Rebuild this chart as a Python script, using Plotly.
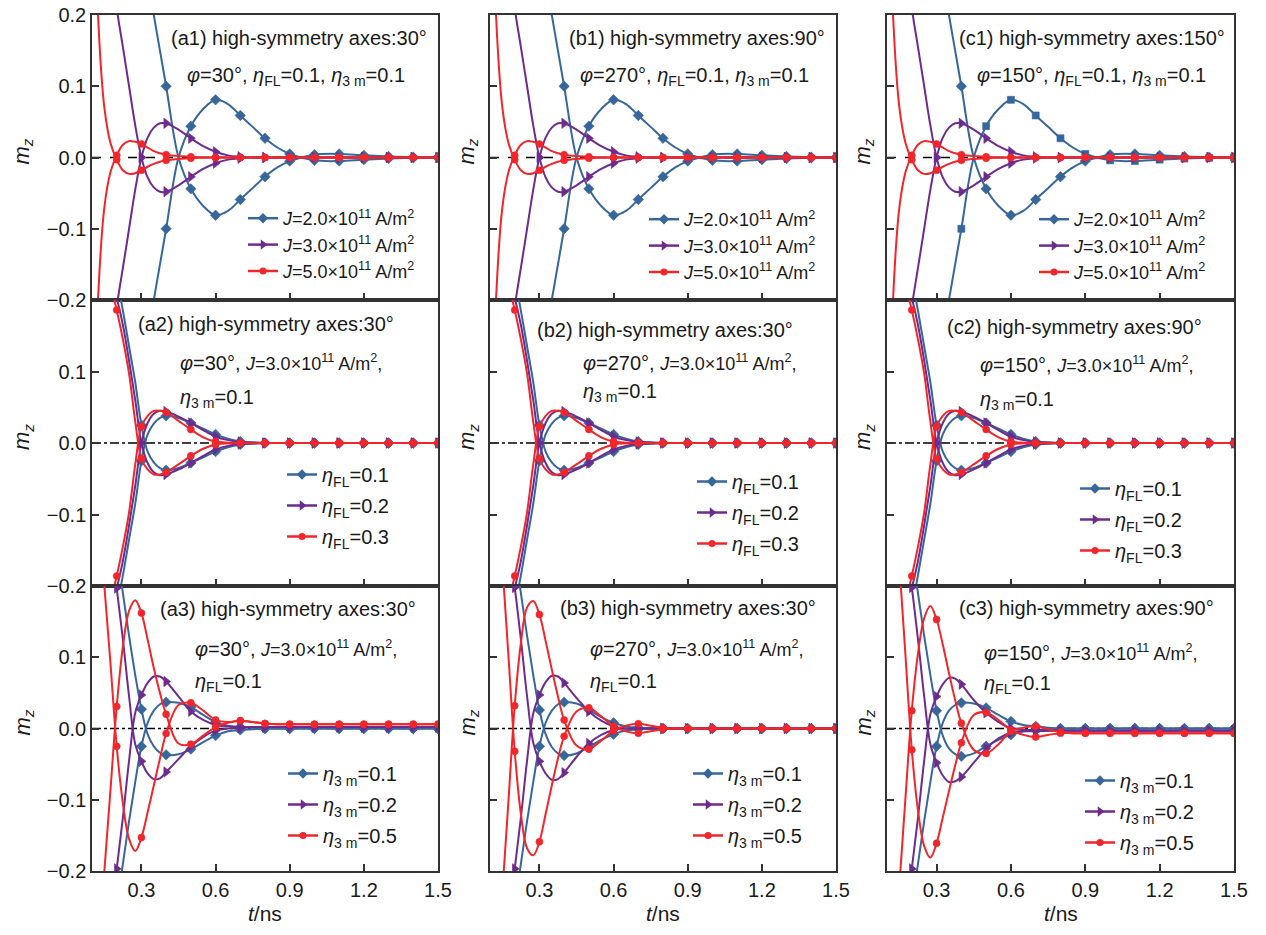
import plotly.graph_objects as go

# The page has an 8px body margin, so the figure is sized to fit the 1266x935 window.
SCREEN_W, SCREEN_H = 1266, 935
OFF = 8
W, H = SCREEN_W - 2 * OFF, SCREEN_H - 2 * OFF
FONT = "Liberation Sans, Arial, sans-serif"

def px(x):
    return (x - OFF) / W

def py(y):
    return 1 - (y - OFF) / H

# ---------------- data (t in ns, m_z) ----------------
T = [0.10, 0.125, 0.15, 0.175, 0.20, 0.225, 0.25, 0.275, 0.30, 0.325, 0.35, 0.375,
     0.40, 0.45, 0.50, 0.55, 0.60, 0.65, 0.70, 0.75, 0.80, 0.85, 0.90,
     1.00, 1.10, 1.20, 1.30, 1.40, 1.50]
MARK_T = [0.2, 0.3, 0.4, 0.5, 0.6, 0.7, 0.8, 0.9, 1.0, 1.1, 1.2, 1.3, 1.4, 1.5]

# Row 1 (a1, b1, c1 look identical): J = 2.0, 3.0, 5.0 x10^11 A/m^2
J2_TOP = [1.20, 1.05, 0.90, 0.77, 0.65, 0.55, 0.46, 0.38, 0.31, 0.25, 0.20, 0.15,
          0.10, 0.00, -0.044, -0.068, -0.081, -0.075, -0.059, -0.043, -0.027, -0.014, -0.005,
          0.004, 0.005, 0.003, 0.0015, 0.0005, 0.0]
J2_BOT = [-1.20, -1.05, -0.90, -0.77, -0.65, -0.55, -0.46, -0.38, -0.31, -0.25, -0.20, -0.15,
          -0.10, 0.00, 0.044, 0.068, 0.081, 0.075, 0.059, 0.043, 0.027, 0.014, 0.005,
          -0.004, -0.005, -0.003, -0.0015, -0.0005, 0.0]
J3_TOP = [0.75, 0.55, 0.40, 0.29, 0.21, 0.155, 0.10, 0.045, 0.0, -0.028, -0.042, -0.048,
          -0.048, -0.039, -0.027, -0.016, -0.008, -0.003, -0.001, 0.0, 0.0, 0.0, 0.0,
          0.0, 0.0, 0.0, 0.0, 0.0, 0.0]
J3_BOT = [-0.75, -0.55, -0.40, -0.29, -0.21, -0.155, -0.10, -0.045, 0.0, 0.028, 0.042, 0.048,
          0.048, 0.039, 0.027, 0.016, 0.008, 0.003, 0.001, 0.0, 0.0, 0.0, 0.0,
          0.0, 0.0, 0.0, 0.0, 0.0, 0.0]
J5_TOP = [0.50, 0.195, 0.07, 0.02, -0.003, -0.018, -0.023, -0.022, -0.018, -0.013, -0.009, -0.006,
          -0.004, -0.002, -0.001, 0.0, 0.0, 0.0, 0.0, 0.0, 0.0, 0.0, 0.0,
          0.0, 0.0, 0.0, 0.0, 0.0, 0.0]
J5_BOT = [-0.50, -0.195, -0.07, -0.02, 0.003, 0.018, 0.023, 0.022, 0.019, 0.014, 0.009, 0.006,
          0.004, 0.002, 0.001, 0.0, 0.0, 0.0, 0.0, 0.0, 0.0, 0.0, 0.0,
          0.0, 0.0, 0.0, 0.0, 0.0, 0.0]

# Row 2 (a2, b2, c2 look identical): eta_FL = 0.1, 0.2, 0.3
FL1_TOP = [0.32, 0.31, 0.29, 0.265, 0.23, 0.185, 0.135, 0.085, 0.025, -0.012, -0.027, -0.035,
           -0.038, -0.035, -0.028, -0.020, -0.012, -0.006, -0.002, -0.001, 0.0, 0.0, 0.0,
           0.0, 0.0, 0.0, 0.0, 0.0, 0.0]
FL1_BOT = [-0.32, -0.31, -0.29, -0.265, -0.23, -0.185, -0.135, -0.085, -0.025, 0.012, 0.027, 0.035,
           0.038, 0.035, 0.028, 0.020, 0.012, 0.006, 0.002, 0.001, 0.0, 0.0, 0.0,
           0.0, 0.0, 0.0, 0.0, 0.0, 0.0]
FL2_TOP = [0.30, 0.285, 0.265, 0.235, 0.203, 0.165, 0.115, 0.06, 0.0, -0.028, -0.041, -0.045,
           -0.044, -0.037, -0.028, -0.018, -0.009, -0.004, -0.0015, -0.0005, 0.0, 0.0, 0.0,
           0.0, 0.0, 0.0, 0.0, 0.0, 0.0]
FL2_BOT = [-0.30, -0.285, -0.265, -0.235, -0.203, -0.165, -0.115, -0.06, 0.0, 0.028, 0.041, 0.045,
           0.044, 0.037, 0.028, 0.018, 0.009, 0.004, 0.0015, 0.0005, 0.0, 0.0, 0.0,
           0.0, 0.0, 0.0, 0.0, 0.0, 0.0]
FL3_TOP = [0.29, 0.275, 0.255, 0.222, 0.186, 0.145, 0.097, 0.03, -0.022, -0.037, -0.044, -0.044,
           -0.041, -0.030, -0.018, -0.008, -0.002, -0.0005, 0.0, 0.0, 0.0, 0.0, 0.0,
           0.0, 0.0, 0.0, 0.0, 0.0, 0.0]
FL3_BOT = [-0.29, -0.275, -0.255, -0.222, -0.186, -0.145, -0.097, -0.03, 0.023, 0.038, 0.045, 0.045,
           0.043, 0.031, 0.019, 0.008, 0.002, 0.0005, 0.0, 0.0, 0.0, 0.0, 0.0,
           0.0, 0.0, 0.0, 0.0, 0.0, 0.0]

# Row 3, panel a3: eta_3m = 0.1, 0.2, 0.5
A3_E1_TOP = [0.50, 0.42, 0.36, 0.31, 0.25, 0.19, 0.13, 0.075, 0.027, -0.008, -0.025, -0.034,
             -0.037, -0.036, -0.029, -0.019, -0.010, -0.004, -0.002, -0.001, 0.0, 0.0, 0.0,
             0.0, 0.0, 0.0, 0.0, 0.0, 0.0]
A3_E1_BOT = [-0.50, -0.42, -0.36, -0.31, -0.25, -0.19, -0.13, -0.075, -0.025, 0.008, 0.025, 0.034,
             0.037, 0.036, 0.030, 0.019, 0.009, 0.004, 0.002, 0.001, 0.0, 0.0, 0.0,
             0.0, 0.0, 0.0, 0.0, 0.0, 0.0]
A3_E2_TOP = [0.50, 0.40, 0.33, 0.26, 0.197, 0.125, 0.045, -0.022, -0.046, -0.063, -0.071, -0.070,
             -0.061, -0.043, -0.025, -0.012, -0.003, 0.0, 0.001, 0.002, 0.002, 0.002, 0.002,
             0.002, 0.002, 0.002, 0.002, 0.002, 0.002]
A3_E2_BOT = [-0.50, -0.40, -0.33, -0.26, -0.197, -0.125, -0.045, 0.022, 0.047, 0.064, 0.073, 0.073,
             0.066, 0.045, 0.024, 0.012, 0.005, 0.003, 0.002, 0.002, 0.002, 0.002, 0.002,
             0.002, 0.002, 0.002, 0.002, 0.002, 0.002]
A3_E5_TOP = [0.42, 0.31, 0.20, 0.09, -0.025, -0.105, -0.155, -0.172, -0.153, -0.118, -0.080, -0.042,
             -0.007, 0.033, 0.036, 0.025, 0.012, 0.009, 0.011, 0.009, 0.007, 0.006, 0.006,
             0.006, 0.006, 0.006, 0.006, 0.006, 0.006]
A3_E5_BOT = [-0.42, -0.32, -0.20, -0.085, 0.031, 0.115, 0.165, 0.180, 0.162, 0.125, 0.085, 0.050,
             0.020, -0.021, -0.022, -0.010, 0.002, 0.008, 0.011, 0.009, 0.007, 0.006, 0.006,
             0.006, 0.006, 0.006, 0.006, 0.006, 0.006]

# Row 3, panel b3
B3_E1_TOP = [0.50, 0.42, 0.36, 0.31, 0.25, 0.19, 0.13, 0.075, 0.026, -0.008, -0.026, -0.035,
             -0.038, -0.035, -0.026, -0.016, -0.008, -0.003, -0.001, 0.0, 0.0, 0.0, 0.0,
             0.0, 0.0, 0.0, 0.0, 0.0, 0.0]
B3_E1_BOT = [-0.50, -0.42, -0.36, -0.31, -0.25, -0.19, -0.13, -0.075, -0.025, 0.008, 0.025, 0.034,
             0.037, 0.035, 0.026, 0.016, 0.008, 0.003, 0.001, 0.0, 0.0, 0.0, 0.0,
             0.0, 0.0, 0.0, 0.0, 0.0, 0.0]
B3_E2_TOP = [0.50, 0.40, 0.33, 0.26, 0.198, 0.125, 0.045, -0.020, -0.046, -0.063, -0.072, -0.071,
             -0.062, -0.040, -0.021, -0.009, -0.002, 0.0, 0.0, 0.0, 0.0, 0.0, 0.0,
             0.0, 0.0, 0.0, 0.0, 0.0, 0.0]
B3_E2_BOT = [-0.50, -0.40, -0.33, -0.26, -0.197, -0.125, -0.045, 0.021, 0.047, 0.065, 0.074, 0.073,
             0.064, 0.043, 0.024, 0.011, 0.003, 0.0, 0.0, 0.0, 0.0, 0.0, 0.0,
             0.0, 0.0, 0.0, 0.0, 0.0, 0.0]
B3_E5_TOP = [0.50, 0.36, 0.23, 0.10, -0.032, -0.120, -0.168, -0.178, -0.159, -0.120, -0.080, -0.042,
             -0.011, 0.024, 0.029, 0.017, 0.003, -0.004, -0.0066, -0.004, -0.001, 0.0, 0.0,
             0.0, 0.0, 0.0, 0.0, 0.0, 0.0]
B3_E5_BOT = [-0.50, -0.36, -0.23, -0.10, 0.032, 0.120, 0.170, 0.179, 0.160, 0.123, 0.083, 0.045,
             0.012, -0.024, -0.029, -0.017, -0.003, 0.004, 0.0066, 0.004, 0.001, 0.0, 0.0,
             0.0, 0.0, 0.0, 0.0, 0.0, 0.0]

# Row 3, panel c3
C3_E1_TOP = [0.50, 0.42, 0.36, 0.31, 0.25, 0.19, 0.13, 0.075, 0.025, -0.010, -0.028, -0.036,
             -0.039, -0.035, -0.025, -0.016, -0.009, -0.004, -0.002, -0.001, 0.0, 0.0, 0.0,
             0.0, 0.0, 0.0, 0.0, 0.0, 0.0]
C3_E1_BOT = [-0.50, -0.42, -0.36, -0.31, -0.25, -0.19, -0.13, -0.075, -0.025, 0.008, 0.025, 0.033,
             0.036, 0.035, 0.029, 0.019, 0.010, 0.005, 0.003, 0.001, 0.0, 0.0, 0.0,
             0.0, 0.0, 0.0, 0.0, 0.0, 0.0]
C3_E2_TOP = [0.50, 0.40, 0.33, 0.26, 0.198, 0.125, 0.045, -0.022, -0.048, -0.066, -0.075, -0.074,
             -0.068, -0.048, -0.028, -0.014, -0.006, -0.004, -0.004, -0.003, -0.003, -0.003, -0.003,
             -0.003, -0.003, -0.003, -0.003, -0.003, -0.003]
C3_E2_BOT = [-0.50, -0.40, -0.33, -0.26, -0.197, -0.125, -0.045, 0.020, 0.045, 0.062, 0.071, 0.070,
             0.062, 0.040, 0.022, 0.009, 0.0, -0.002, -0.002, -0.003, -0.003, -0.003, -0.003,
             -0.003, -0.003, -0.003, -0.003, -0.003, -0.003]
C3_E5_TOP = [0.50, 0.36, 0.23, 0.10, -0.030, -0.115, -0.165, -0.181, -0.161, -0.125, -0.088, -0.052,
             -0.020, 0.019, 0.0225, 0.012, -0.002, -0.009, -0.012, -0.009, -0.0065, -0.0066, -0.0066,
             -0.0066, -0.0066, -0.0066, -0.0066, -0.0066, -0.0066]
C3_E5_BOT = [-0.50, -0.36, -0.22, -0.095, 0.025, 0.105, 0.155, 0.172, 0.153, 0.118, 0.078, 0.040,
             0.0075, -0.030, -0.035, -0.022, -0.004, 0.001, 0.003, -0.001, -0.005, -0.0065, -0.0066,
             -0.0066, -0.0066, -0.0066, -0.0066, -0.0066, -0.0066]

# legend labels
LEG_J = ["<i>J</i>=2.0×10<sup>11</sup> A/m<sup>2</sup>",
         "<i>J</i>=3.0×10<sup>11</sup> A/m<sup>2</sup>",
         "<i>J</i>=5.0×10<sup>11</sup> A/m<sup>2</sup>"]
LEG_FL = ["<i>η</i><sub>FL</sub>=0.1", "<i>η</i><sub>FL</sub>=0.2", "<i>η</i><sub>FL</sub>=0.3"]
LEG_3M = ["<i>η</i><sub>3 m</sub>=0.1", "<i>η</i><sub>3 m</sub>=0.2", "<i>η</i><sub>3 m</sub>=0.5"]

# ---------------- styling ----------------
COLORS = ["#37679A", "#6E2B8E", "#F0262B"]
SYMBOLS = ["diamond", "triangle-right", "circle"]
MSIZES = [8, 9, 7]
AXC = "#333333"
TXT = "#1a1a1a"

# panel boxes in screen pixels
COL_X = [(92, 438), (490, 836), (887, 1234)]
ROW_Y = [(15, 300), (300, 586), (586, 871)]

JTXT = "<span style='font-size:18px'><i>J</i>=3.0×10<sup>11</sup> A/m<sup>2</sup>,</span>"
ETA_FL = "<i>η</i><sub>FL</sub>=0.1"
ETA_3M = "<i>η</i><sub>3 m</sub>=0.1"

def phi1(p):
    return f"<i>φ</i>={p}°, {ETA_FL}, {ETA_3M}"

PANELS = [
    dict(curves=[(J2_TOP, J2_BOT), (J3_TOP, J3_BOT), (J5_TOP, J5_BOT)], labels=LEG_J,
         texts=[("(a1) high-symmetry axes:30°", 0.975, 0.919, "right"), (phi1(30), 0.59, 0.785, "center")],
         leg=(243, 200), lfs=18, gap=0),
    dict(curves=[(J2_TOP, J2_BOT), (J3_TOP, J3_BOT), (J5_TOP, J5_BOT)], labels=LEG_J,
         texts=[("(b1) high-symmetry axes:90°", 0.975, 0.919, "right"), (phi1(270), 0.59, 0.785, "center")],
         leg=(644, 201), lfs=18, gap=0),
    dict(curves=[(J2_TOP, J2_BOT), (J3_TOP, J3_BOT), (J5_TOP, J5_BOT)], labels=LEG_J,
         texts=[("(c1) high-symmetry axes:150°", 0.98, 0.919, "right"), (phi1(150), 0.59, 0.785, "center")],
         leg=(1034, 201), lfs=18, gap=0, square=True),
    dict(curves=[(FL1_TOP, FL1_BOT), (FL2_TOP, FL2_BOT), (FL3_TOP, FL3_BOT)], labels=LEG_FL,
         texts=[("(a2) high-symmetry axes:30°", 0.503, 0.916, "center"),
                (f"<i>φ</i>=30°, {JTXT}", 0.249, 0.783, "left"), (ETA_3M, 0.249, 0.657, "left")],
         leg=(282, 455), lfs=20, gap=2),
    dict(curves=[(FL1_TOP, FL1_BOT), (FL2_TOP, FL2_BOT), (FL3_TOP, FL3_BOT)], labels=LEG_FL,
         texts=[("(b2) high-symmetry axes:30°", 0.506, 0.895, "center"),
                (f"<i>φ</i>=270°, {JTXT}", 0.263, 0.783, "left"), (ETA_3M, 0.263, 0.675, "left")],
         leg=(692, 462), lfs=20, gap=2),
    dict(curves=[(FL1_TOP, FL1_BOT), (FL2_TOP, FL2_BOT), (FL3_TOP, FL3_BOT)], labels=LEG_FL,
         texts=[("(c2) high-symmetry axes:90°", 0.539, 0.906, "center"),
                (f"<i>φ</i>=150°, {JTXT}", 0.262, 0.773, "left"), (ETA_3M, 0.262, 0.650, "left")],
         leg=(1075, 469), lfs=20, gap=2),
    dict(curves=[(A3_E1_TOP, A3_E1_BOT), (A3_E2_TOP, A3_E2_BOT), (A3_E5_TOP, A3_E5_BOT)], labels=LEG_3M,
         texts=[("(a3) high-symmetry axes:30°", 0.566, 0.919, "center"),
                (f"<i>φ</i>=30°, {JTXT}", 0.292, 0.782, "left"), (ETA_FL, 0.292, 0.663, "left")],
         leg=(283, 754), lfs=20, gap=2),
    dict(curves=[(B3_E1_TOP, B3_E1_BOT), (B3_E2_TOP, B3_E2_BOT), (B3_E5_TOP, B3_E5_BOT)], labels=LEG_3M,
         texts=[("(b3) high-symmetry axes:30°", 0.571, 0.923, "center"),
                (f"<i>φ</i>=270°, {JTXT}", 0.283, 0.782, "left"), (ETA_FL, 0.283, 0.663, "left")],
         leg=(688, 754), lfs=20, gap=2),
    dict(curves=[(C3_E1_TOP, C3_E1_BOT), (C3_E2_TOP, C3_E2_BOT), (C3_E5_TOP, C3_E5_BOT)], labels=LEG_3M,
         texts=[("(c3) high-symmetry axes:90°", 0.574, 0.923, "center"),
                (f"<i>φ</i>=150°, {JTXT}", 0.274, 0.768, "left"), (ETA_FL, 0.274, 0.653, "left")],
         leg=(1080, 761), lfs=20, gap=2),
]

mark_idx = [i for i, t in enumerate(T) if any(abs(t - m) < 1e-9 for m in MARK_T)]

fig = go.Figure()
layout = dict(width=W, height=H, margin=dict(l=0, r=0, t=0, b=0, autoexpand=False),
              paper_bgcolor="white", plot_bgcolor="white",
              font=dict(family=FONT, size=20, color=TXT), showlegend=True)
annotations = []
shapes = []

for i, p in enumerate(PANELS):
    r, c = divmod(i, 3)
    sfx = "" if i == 0 else str(i + 1)
    xa, ya = "x" + sfx, "y" + sfx
    x0, x1 = COL_X[c]
    yt, yb = ROW_Y[r]
    legname = "legend" if i == 0 else f"legend{i + 1}"

    layout["xaxis" + sfx] = dict(
        domain=[px(x0), px(x1)], anchor=ya, range=[0.1, 1.5], automargin=False,
        tickvals=[0.3, 0.6, 0.9, 1.2, 1.5], tickformat=".1f", ticklabeloverflow="allow",
        ticks="inside", ticklen=7, tickwidth=1.5, tickcolor=AXC,
        showline=True, linecolor=AXC, linewidth=1.5, mirror=True,
        showgrid=False, zeroline=False, showticklabels=(r == 2),
        tickfont=dict(size=20, color=TXT))
    layout["yaxis" + sfx] = dict(
        domain=[py(yb), py(yt)], anchor=xa, range=[-0.2, 0.2], automargin=False,
        tickvals=([-0.2, -0.1, 0.0, 0.1, 0.2] if r == 0 else [-0.2, -0.1, 0.0, 0.1]),
        tickformat=".1f", ticklabeloverflow="allow",
        ticks="inside", ticklen=7, tickwidth=1.5, tickcolor=AXC,
        showline=True, linecolor=AXC, linewidth=1.5, mirror=True,
        showgrid=False, zeroline=False, showticklabels=(c == 0),
        tickfont=dict(size=20, color=TXT))

    # zero reference line
    shapes.append(dict(type="line", xref=xa + " domain", yref=ya, x0=0, x1=1, y0=0, y1=0,
                       line=dict(color="black", width=1.5, dash=("dash" if r == 0 else "dashdot")),
                       layer="below"))

    for k, (top, bot) in enumerate(p["curves"]):
        for b, arr in enumerate((top, bot)):
            fig.add_trace(go.Scatter(
                x=T, y=arr, mode="lines", xaxis=xa, yaxis=ya, showlegend=False,
                line=dict(color=COLORS[k], width=2, shape="spline", smoothing=1.0),
                hoverinfo="skip"))
            sym = SYMBOLS[k]
            if k == 0 and b == 1 and p.get("square"):
                sym = "square"
            fig.add_trace(go.Scatter(
                x=[T[j] for j in mark_idx], y=[arr[j] for j in mark_idx], mode="markers",
                xaxis=xa, yaxis=ya, showlegend=False,
                marker=dict(symbol=sym, size=MSIZES[k] if sym != "square" else 7, color=COLORS[k],
                            line=dict(width=0.6, color=COLORS[k])),
                hoverinfo="skip"))
        # legend entry
        fig.add_trace(go.Scatter(
            x=[None], y=[None], mode="lines+markers", xaxis=xa, yaxis=ya,
            name=p["labels"][k], legend=legname, showlegend=True,
            legendgroup=f"p{i}s{k}",
            line=dict(color=COLORS[k], width=2.5),
            marker=dict(symbol=SYMBOLS[k], size=MSIZES[k], color=COLORS[k])))

    lx, ly = p["leg"]
    layout[legname] = dict(x=px(lx), y=py(ly), xanchor="left", yanchor="top",
                           bgcolor="rgba(0,0,0,0)", borderwidth=0, itemwidth=30,
                           font=dict(family=FONT, size=p["lfs"], color=TXT),
                           traceorder="grouped", tracegroupgap=p["gap"])

    for (txt, tx, ty, anc) in p["texts"]:
        annotations.append(dict(text=txt, xref=xa + " domain", yref=ya + " domain",
                                x=tx, y=ty, xanchor=anc, yanchor="middle", showarrow=False,
                                font=dict(family=FONT, size=20, color=TXT)))

# axis titles as annotations
MZ_X = [23, 468, 864]
for c in range(3):
    for r in range(3):
        yt, yb = ROW_Y[r]
        annotations.append(dict(text="<i>m</i><sub><i>z</i></sub>", xref="paper", yref="paper",
                                x=px(MZ_X[c]), y=py((yt + yb) / 2 - 6),
                                xanchor="center", yanchor="middle", textangle=-90,
                                showarrow=False, font=dict(family=FONT, size=22, color=TXT)))
    annotations.append(dict(text="<i>t</i>/ns", xref="paper", yref="paper",
                            x=px((COL_X[c][0] + COL_X[c][1]) / 2), y=0,
                            xanchor="center", yanchor="bottom", showarrow=False,
                            font=dict(family=FONT, size=21, color=TXT)))

layout["annotations"] = annotations
layout["shapes"] = shapes
fig.update_layout(**layout)
fig.write_html("out.html")
